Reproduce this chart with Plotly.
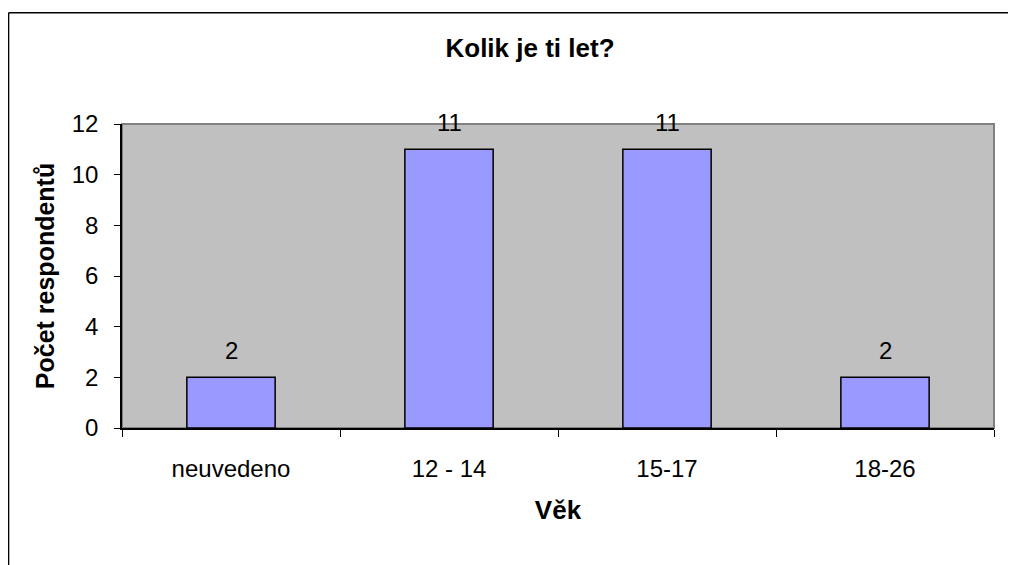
import plotly.graph_objects as go

categories = ["neuvedeno", "12 - 14", "15-17", "18-26"]
values = [2, 11, 11, 2]
y_ticks = [0, 2, 4, 6, 8, 10, 12]

FONT = "Liberation Sans, Arial, sans-serif"

fig = go.Figure()
fig.add_trace(go.Bar(
    x=categories, y=values,
    marker=dict(color="#9999FF", line=dict(color="black", width=1.5)),
    width=0.405,
))

for c, v in zip(categories, values):
    fig.add_annotation(x=c, y=v, text=str(v), showarrow=False, yshift=27,
                       font=dict(family=FONT, size=24, color="black"))

# body margin of 8px offsets the figure; coordinates below are in figure space
L, R, T, B = 114, 986.5, 116, 420.5
W, H = 1008, 557

frame_x0 = (0.5 - L) / (R - L)
frame_y1 = (B - 4.5) / (B - T)

fig.update_layout(
    width=W, height=H,
    margin=dict(l=L, r=W - R, t=T, b=H - B),
    paper_bgcolor="white", plot_bgcolor="#C0C0C0",
    showlegend=False,
    font=dict(family=FONT, size=24, color="black"),
    title=dict(text="<b>Kolik je ti let?</b>", x=522 / W, xanchor="center",
               y=1 - 40 / H, yanchor="middle", font=dict(size=26)),
    shapes=[
        dict(type="rect", xref="paper", yref="paper", x0=0, x1=1, y0=0, y1=1,
             line=dict(color="#808080", width=2), layer="below"),
        dict(type="line", xref="paper", yref="paper",
             x0=frame_x0, x1=1.05, y0=frame_y1, y1=frame_y1,
             line=dict(color="black", width=1.5)),
        dict(type="line", xref="paper", yref="paper",
             x0=frame_x0, x1=frame_x0, y0=-0.6, y1=frame_y1,
             line=dict(color="black", width=1.5)),
    ],
)

fig.update_xaxes(
    showgrid=False, showline=True, linecolor="black", linewidth=1.5,
    ticks="outside", tickson="boundaries", ticklen=7, tickcolor="black",
    ticklabelstandoff=18,
    tickfont=dict(size=24),
    title=dict(text="<b>Věk</b>", font=dict(size=26), standoff=20),
)
fig.update_yaxes(
    range=[0, 12], tickvals=y_ticks, showgrid=False, zeroline=False,
    showline=True, linecolor="black", linewidth=1.5,
    ticks="outside", ticklen=6, tickcolor="black", ticklabelstandoff=11,
    tickfont=dict(size=24),
    title=dict(text="<b>Počet respondentů</b>", font=dict(size=25), standoff=10),
)

fig.write_html("out.html", config={"displayModeBar": False})
